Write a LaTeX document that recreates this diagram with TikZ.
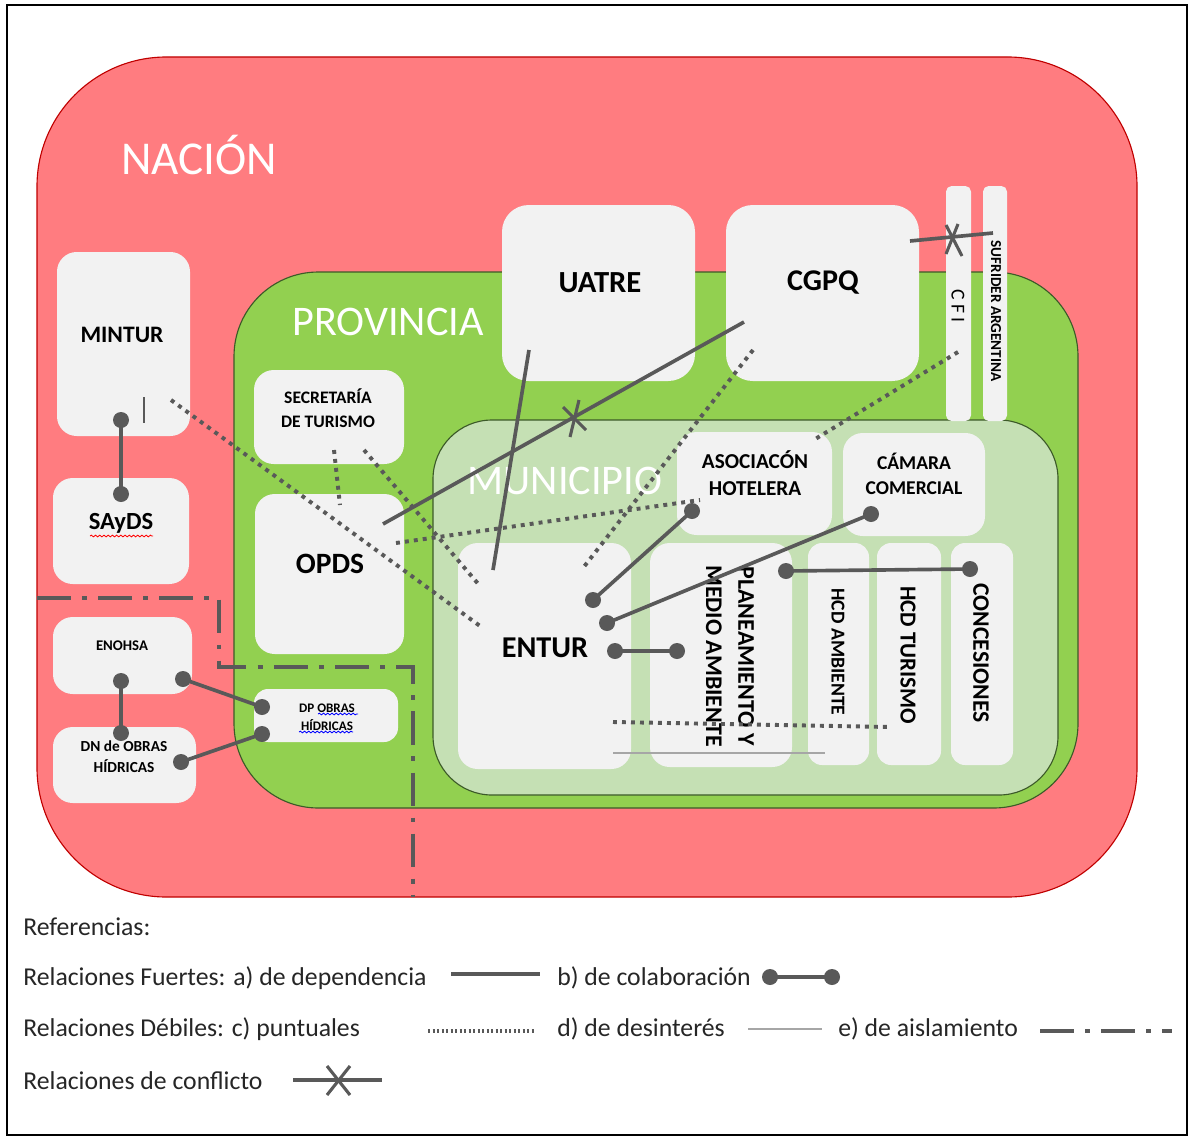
\documentclass[tikz,border=0pt]{standalone}
\usepackage{fontspec}
\setmainfont{Carlito}
\usetikzlibrary{fit,decorations.pathmorphing}
\definecolor{nacionfill}{HTML}{FF7C80}
\definecolor{nacionline}{HTML}{C00000}
\definecolor{provfill}{HTML}{92D050}
\definecolor{provline}{HTML}{3C5A28}
\definecolor{munifill}{HTML}{C5E0B4}
\definecolor{boxgray}{HTML}{F2F2F2}
\definecolor{conncol}{HTML}{595959}
\definecolor{thingray}{HTML}{A6A6A6}
\definecolor{legtext}{HTML}{262626}
\begin{document}
\begin{tikzpicture}[x=0.025cm,y=-0.025cm,
  region/.style={inner sep=0pt},
  box/.style={fill=boxgray, draw=none, rounded corners=14pt, inner sep=0pt},
  bigbox/.style={box, rounded corners=19pt},
  bar/.style={box, rounded corners=4pt},
  regionlbl/.style={text=white, font=\fontsize{30pt}{36pt}\selectfont, inner sep=0pt},
  lbl/.style={text=black, align=center, inner sep=0pt, font=\bfseries\fontsize{14pt}{17pt}\selectfont},
  conn/.style={draw=conncol, line width=2.6pt},
  puntual/.style={draw=conncol, line width=2.8pt, dash pattern=on 2.8pt off 3.6pt},
  desint/.style={draw=thingray, line width=1pt},
  aisl/.style={draw=conncol, line width=3pt, dash pattern=on 24pt off 8pt on 3.5pt off 8pt},
  xmark/.style={draw=conncol, line width=2.2pt},
  legend/.style={anchor=west, text=legtext, inner sep=0pt, font=\fontsize{18.3pt}{22pt}\selectfont},
  wavyred/.style={draw=red, line width=0.6pt, decorate, decoration={snake, amplitude=0.6pt, segment length=3pt}},
  wavyblue/.style={draw=blue, line width=0.6pt, decorate, decoration={snake, amplitude=0.6pt, segment length=3pt}}
]
\useasboundingbox (0,0) rectangle (1188,1137);
\fill[white] (0,0) rectangle (1188,1137);
\draw[black, line width=0.9pt] (7,5) rectangle (1187,1135);

% regions
\node[region, fit={(37,57) (1137,897)}, fill=nacionfill, draw=nacionline, line width=0.8pt, rounded corners=92pt] (nacion) {};
\node[region, fit={(234,272) (1078,808)}, fill=provfill, draw=provline, line width=0.8pt, rounded corners=60pt] (provincia) {};
\node[region, fit={(433,420) (1058,795)}, fill=munifill, draw=provline, line width=0.8pt, rounded corners=42pt] (municipio) {};

\node[regionlbl, font=\fontsize{33.5pt}{38pt}\selectfont] (nacionlbl) at (199,155) {NACIÓN};
\node[regionlbl] (provlbl) at (388,322) {PROVINCIA};
\node[regionlbl] (munilbl) at (565,481) {MUNICIPIO};

% boxes
\node[box, fit={(57,252) (190,436)}] (mintur) {};
\node[lbl, font=\bfseries\fontsize{16.8pt}{20pt}\selectfont] (minturlbl) at (122,335) {MINTUR};
\node[box, fit={(53,478) (189,584)}] (saydsbox) {};
\node[lbl, font=\bfseries\fontsize{17.5pt}{20pt}\selectfont] (saydslbl) at (121,523) {SAyDS};
\node[box, fit={(53,617) (192,694)}] (enohsa) {};
\node[lbl, font=\bfseries\fontsize{10.5pt}{13pt}\selectfont] (enohsalbl) at (122,646) {ENOHSA};
\node[box, fit={(53,727) (196,803)}] (dn) {};
\node[lbl, font=\bfseries\fontsize{10.9pt}{15pt}\selectfont] (dnlbl) at (124,757) {DN de OBRAS\\HÍDRICAS};
\node[box, fit={(254,370) (404,464)}] (sec) {};
\node[lbl, font=\bfseries\fontsize{12.5pt}{17pt}\selectfont] (seclbl) at (328,408) {SECRETARÍA\\DE TURISMO};
\node[box, fit={(255,494) (404,654)}] (opds) {};
\node[lbl, font=\bfseries\fontsize{21pt}{24pt}\selectfont] (opdslbl) at (330,564) {OPDS};
\node[box, rounded corners=10pt, fit={(254,689) (398,742)}] (dp) {};
\node[lbl, font=\bfseries\fontsize{9.3pt}{13pt}\selectfont] (dplbl) at (327,717) {DP OBRAS\\HÍDRICAS};
\node[bigbox, fit={(502,205) (695,381)}] (uatre) {};
\node[lbl, font=\bfseries\fontsize{21.8pt}{25pt}\selectfont] (uatrelbl) at (600,283) {UATRE};
\node[bigbox, fit={(726,205) (919,381)}] (cgpq) {};
\node[lbl, font=\bfseries\fontsize{21.4pt}{25pt}\selectfont] (cgpqlbl) at (823,283) {CGPQ};
\node[bar, fit={(946,186) (971,421)}] (cfi) {};
\node[lbl, rotate=-90, font=\fontsize{14pt}{16pt}\selectfont] (cfilbl) at (958,306) {C F I};
\node[bar, fit={(983,186) (1007,421)}] (sufr) {};
\node[lbl, rotate=-90, font=\bfseries\fontsize{10.8pt}{12pt}\selectfont] (sufrlbl) at (996,311) {SUFRIDER ARGENTINA};
\node[box, fit={(677,432) (832,535)}] (asoc) {};
\node[lbl, font=\bfseries\fontsize{15.1pt}{19pt}\selectfont] (asoclbl) at (755,473) {ASOCIACÓN\\HOTELERA};
\node[box, fit={(843,433) (985,536)}] (camara) {};
\node[lbl, font=\bfseries\fontsize{13.9pt}{18pt}\selectfont] (camaralbl) at (914,474) {CÁMARA\\COMERCIAL};
\node[box, fit={(458,543) (631,769)}] (entur) {};
\node[lbl, font=\bfseries\fontsize{21.5pt}{25pt}\selectfont] (enturlbl) at (545,648) {ENTUR};
\node[box, fit={(650,543) (792,767)}] (plan) {};
\node[lbl, rotate=-90, font=\bfseries\fontsize{17pt}{23pt}\selectfont] (planlbl) at (730,656) {PLANEAMIENTO Y\\MEDIO AMBIENTE};
\node[box, rounded corners=10pt, fit={(808,543) (869,765)}] (hcda) {};
\node[lbl, rotate=-90, font=\bfseries\fontsize{14pt}{16pt}\selectfont] (hcdalbl) at (838,652) {HCD AMBIENTE};
\node[box, rounded corners=10pt, fit={(877,543) (941,765)}] (hcdt) {};
\node[lbl, rotate=-90, font=\bfseries\fontsize{16.3pt}{19pt}\selectfont] (hcdtlbl) at (908,655) {HCD TURISMO};
\node[box, rounded corners=10pt, fit={(951,543) (1013,765)}] (conc) {};
\node[lbl, rotate=-90, font=\bfseries\fontsize{16.8pt}{19pt}\selectfont] (conclbl) at (981,653) {CONCESIONES};

% spell-check underlines
\draw[wavyred] (90,536) -- (153,536);
\draw[wavyblue] (318,714) -- (358,714);
\draw[wavyblue] (299,732) -- (353,732);

% connection points
\coordinate (uatre-s) at (529,350); \coordinate (entur-u) at (493,570);
\coordinate (cgpq-s) at (744,322); \coordinate (opds-c) at (383,524);
\coordinate (cgpq-e) at (910,241); \coordinate (sufr-w) at (993,233);
\coordinate (mintur-v1) at (144,397); \coordinate (mintur-v2) at (144,423);
\coordinate (mintur-d) at (171,400); \coordinate (entur-d1) at (480,626);
\coordinate (sec-d1) at (334,450); \coordinate (opds-d1) at (340,505);
\coordinate (sec-d2) at (364,450); \coordinate (entur-d2) at (480,586);
\coordinate (opds-d2) at (396,543); \coordinate (asoc-d) at (700,500);
\coordinate (cgpq-d) at (753,350); \coordinate (entur-d3) at (583,568);
\coordinate (cfi-d) at (958,352); \coordinate (asoc-d2) at (812,441);
\coordinate (entur-d4) at (613,722); \coordinate (hcd-d) at (890,727);
\coordinate (entur-t) at (613,753); \coordinate (plan-t) at (825,753);
\coordinate (mintur-c) at (121,420); \coordinate (saydsc) at (121,494);
\coordinate (enohsa-c1) at (121,681); \coordinate (dn-c1) at (121,733);
\coordinate (enohsa-c2) at (183,679); \coordinate (dp-c1) at (262,707);
\coordinate (dn-c2) at (181,762); \coordinate (dp-c2) at (262,734);
\coordinate (entur-c1) at (593,600); \coordinate (asoc-c) at (692,511);
\coordinate (entur-c2) at (607,623); \coordinate (cam-c) at (871,514);
\coordinate (entur-c3) at (615,651); \coordinate (plan-c1) at (677,651);
\coordinate (plan-c2) at (786,571); \coordinate (conc-c) at (970,569);

% weak: puntuales
\draw[puntual] (mintur-d) -- (entur-d1);
\draw[puntual] (sec-d1) -- (opds-d1);
\draw[puntual] (sec-d2) -- (entur-d2);
\draw[puntual] (opds-d2) -- (asoc-d);
\draw[puntual] (cgpq-d) -- (entur-d3);
\draw[puntual] (cfi-d) -- (asoc-d2);
\draw[puntual] (entur-d4) -- (hcd-d);
% desinteres
\draw[desint] (entur-t) -- (plan-t);
% dependencia
\draw[conn] (uatre-s) -- (entur-u);
\draw[conn, line width=1.2pt] (mintur-v1) -- (mintur-v2);
% conflicto
\draw[conn] (cgpq-s) -- (opds-c);
\draw[xmark] (563,407) -- (586,430);
\draw[xmark] (579,400) -- (570,437);
\draw[conn] (cgpq-e) -- (sufr-w);
\draw[xmark] (946,225) -- (962,256);
\draw[xmark] (958,224) -- (946,254);
% colaboracion
\foreach \a/\b in {mintur-c/saydsc, enohsa-c1/dn-c1, enohsa-c2/dp-c1, dn-c2/dp-c2,
  entur-c1/asoc-c, entur-c2/cam-c, entur-c3/plan-c1, plan-c2/conc-c}{
  \draw[conn] (\a) -- (\b);
  \fill[conncol] (\a) circle[radius=8];
  \fill[conncol] (\b) circle[radius=8];
}
% aislamiento
\draw[aisl] (37,598) -- (219,598) -- (219,667) -- (413,667) -- (413,897);

% legend
\node[legend] (ref) at (23,927) {Referencias:};
\node[legend] (lf) at (23,978) {Relaciones Fuertes: a) de dependencia};
\coordinate (ldep1) at (451,974); \coordinate (ldep2) at (540,974);
\draw[conn] (ldep1) -- (ldep2);
\node[legend] (lb) at (557,978) {b) de colaboración};
\coordinate (lcol1) at (770,977); \coordinate (lcol2) at (832,977);
\draw[conn] (lcol1) -- (lcol2);
\fill[conncol] (lcol1) circle[radius=8];
\fill[conncol] (lcol2) circle[radius=8];
\node[legend] (ld) at (23,1029) {Relaciones Débiles: c) puntuales};
\coordinate (lpun1) at (428,1031); \coordinate (lpun2) at (535,1031);
\draw[draw=conncol, line width=2.8pt, dash pattern=on 1.6pt off 1.6pt] (lpun1) -- (lpun2);
\node[legend] (ldd) at (557,1029) {d) de desinterés};
\coordinate (ldes1) at (748,1029); \coordinate (ldes2) at (822,1029);
\draw[desint] (ldes1) -- (ldes2);
\node[legend] (le) at (838,1029) {e) de aislamiento};
\coordinate (lais1) at (1040,1031); \coordinate (lais2) at (1172,1031);
\draw[aisl] (lais1) -- (lais2);
\node[legend] (lc) at (23,1081) {Relaciones de conflicto};
\coordinate (lcon1) at (293,1080); \coordinate (lcon2) at (382,1080);
\draw[conn] (lcon1) -- (lcon2);
\draw[xmark] (327,1066) -- (350,1095);
\draw[xmark] (350,1066) -- (327,1095);
\end{tikzpicture}
\end{document}
